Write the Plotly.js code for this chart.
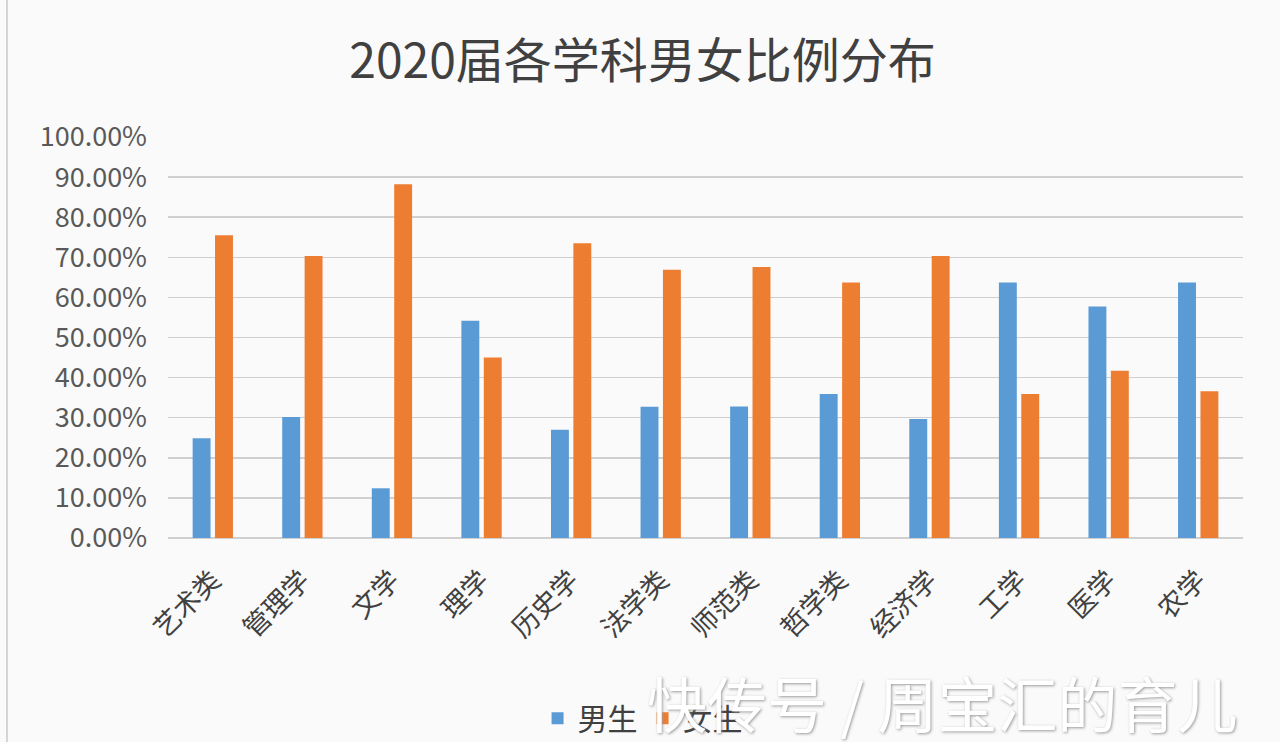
<!DOCTYPE html>
<html>
<head>
<meta charset="utf-8">
<script src="https://cdn.plot.ly/plotly-3.0.1.min.js"></script>
<style>
  html, body { margin: 0; padding: 0; background: #fafafa; }
  #chart { width: 1280px; height: 742px; }
</style>
</head>
<body>
<div id="chart"></div>
<script>
const subjects = ["艺术类", "管理学", "文学", "理学", "历史学", "法学类", "师范类", "哲学类", "经济学", "工学", "医学", "农学"];
const maleShare = [0.249, 0.302, 0.124, 0.542, 0.270, 0.327, 0.328, 0.359, 0.297, 0.637, 0.577, 0.637];
const femaleShare = [0.755, 0.703, 0.882, 0.450, 0.735, 0.669, 0.676, 0.637, 0.703, 0.359, 0.417, 0.366];
const yTicks = [0, 0.1, 0.2, 0.3, 0.4, 0.5, 0.6, 0.7, 0.8, 0.9, 1.0];

const cjkFont = "Noto Sans CJK SC, Noto Sans, sans-serif";

const maleTrace = {
    x: subjects,
    y: maleShare,
    type: "bar",
    name: "男生",
    marker: { color: "#5b9bd5" },
    hoverinfo: "skip"
};

const femaleTrace = {
    x: subjects,
    y: femaleShare,
    type: "bar",
    name: "女生",
    marker: { color: "#ed7d31" },
    hoverinfo: "skip"
};

const layout = {
    width: 1280,
    height: 742,
    paper_bgcolor: "#fafafa",
    plot_bgcolor: "#fafafa",
    font: { family: cjkFont, color: "#595959" },
    margin: { l: 168, r: 37, t: 137, b: 204 },
    barmode: "group",
    bargap: 0.5,
    bargroupgap: 0.2,
    title: {
        text: "2020届各学科男女比例分布",
        font: { family: cjkFont, size: 48, color: "#404040" },
        x: 0.502,
        xanchor: "center",
        y: 0.918,
        yanchor: "middle"
    },
    xaxis: {
        tickangle: -45,
        tickfont: { size: 27, color: "#404040" },
        showgrid: false,
        showline: false,
        ticks: "",
        ticklabelstandoff: 20,
        automargin: false
    },
    yaxis: {
        range: [0, 1],
        tickvals: yTicks,
        tickformat: ".2%",
        tickfont: { size: 27, color: "#595959" },
        gridcolor: "#d0d0d0",
        gridwidth: 1.5,
        zeroline: true,
        zerolinecolor: "#d0d0d0",
        zerolinewidth: 1.5,
        ticklabelstandoff: 20,
        automargin: false
    },
    showlegend: true,
    legend: {
        orientation: "h",
        xref: "container",
        yref: "container",
        x: 0.502,
        xanchor: "center",
        y: 0.032,
        yanchor: "middle",
        font: { size: 30, color: "#404040" },
        itemwidth: 30,
        bgcolor: "rgba(0,0,0,0)"
    },
    shapes: [{
        type: "line",
        xref: "paper", yref: "paper",
        x0: -0.1498, x1: -0.1498, y0: -0.52, y1: 1.35,
        line: { color: "#c8c8c8", width: 1.5 }
    }],
    annotations: [{
        text: "快传号 / 周宝汇的育儿",
        xref: "paper", yref: "paper",
        x: 0.4437, y: -0.408,
        xanchor: "left", yanchor: "middle",
        showarrow: false,
        font: { family: cjkFont, size: 60, color: "#ffffff", shadow: "1px 1px 3px #9a9a9a" }
    }]
};

Plotly.newPlot("chart", [maleTrace, femaleTrace], layout, { staticPlot: true });
</script>
</body>
</html>
